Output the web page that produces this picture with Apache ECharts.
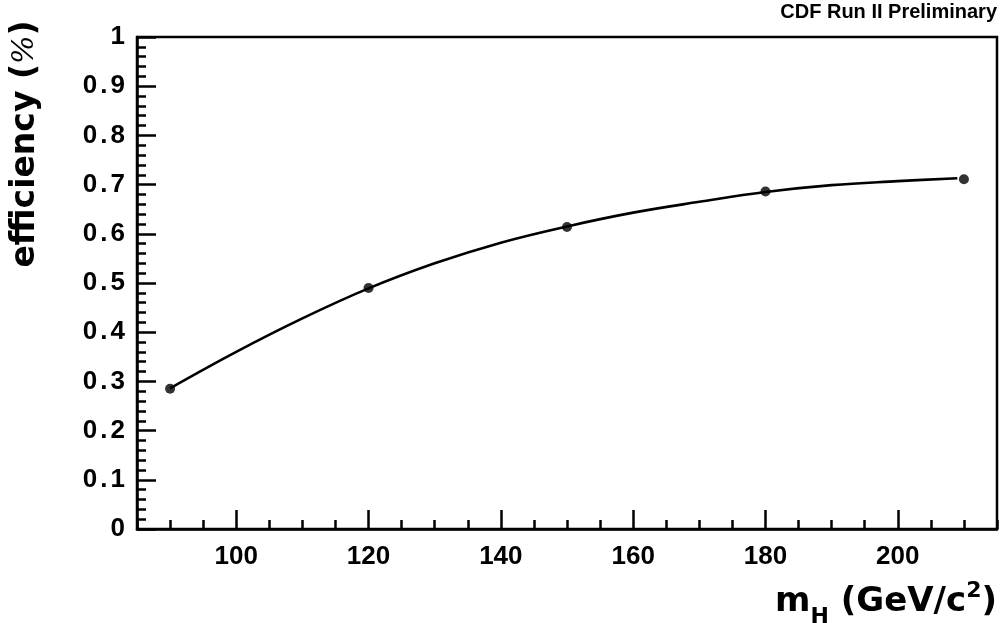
<!DOCTYPE html>
<html>
<head>
<meta charset="utf-8">
<title>efficiency vs m_H</title>
<script src="https://cdn.jsdelivr.net/npm/echarts@6/dist/echarts.min.js"></script>
<style>
  html, body { margin: 0; padding: 0; background: #ffffff; }
  #chart { width: 1003px; height: 623px; }
</style>
</head>
<body>
<div id="chart"></div>
<script>
// Measured efficiency at each Higgs mass hypothesis
const massPoints = [90, 120, 150, 180, 210];
const effPoints = [0.285, 0.490, 0.614, 0.686, 0.711];

// Fitted curve, sampled along its length
const curveMass = [90, 100, 110, 120, 130, 140, 150, 160, 170, 180, 190, 200, 209];
const curveEff = [0.286, 0.360, 0.428, 0.489, 0.540, 0.582, 0.615, 0.643, 0.665, 0.685, 0.699, 0.707, 0.713];

// Axis ticks
const xMajorTicks = [100, 120, 140, 160, 180, 200];
const xMinorTicks = [85, 90, 95, 105, 110, 115, 125, 130, 135, 145, 150, 155, 165, 170, 175, 185, 190, 195, 205, 210, 215];

const FONT = '"Liberation Sans", Arial, Helvetica, sans-serif';
const WIDE = '"DejaVu Sans", "Liberation Sans", sans-serif';

const chart = echarts.init(document.getElementById('chart'), null, { renderer: 'canvas' });

const pairs = (xs, ys) => xs.map((x, i) => [x, ys[i]]);

chart.setOption({
  animation: false,
  backgroundColor: '#ffffff',
  grid: {
    left: 137, top: 37, width: 860, height: 492,
    show: true, borderColor: '#000', borderWidth: 2.5, backgroundColor: 'transparent'
  },
  xAxis: [
    {
      type: 'value', min: 85, max: 215, position: 'bottom',
      axisLine: { show: true, onZero: false, lineStyle: { color: '#000', width: 2.5 } },
      axisTick: { show: true, inside: true, length: 19, customValues: xMajorTicks, lineStyle: { color: '#000', width: 2.5 } },
      axisLabel: {
        show: true, customValues: xMajorTicks, margin: 15,
        color: '#000', fontFamily: FONT, fontWeight: 'bold', fontSize: 26
      },
      splitLine: { show: false }
    },
    {
      type: 'value', min: 85, max: 215, position: 'bottom', offset: 0,
      axisLine: { show: false },
      axisTick: { show: true, inside: true, length: 9, customValues: xMinorTicks, lineStyle: { color: '#000', width: 2.5 } },
      axisLabel: { show: false },
      splitLine: { show: false }
    }
  ],
  yAxis: {
    type: 'value', min: 0, max: 1, interval: 0.1,
    axisLine: { show: true, onZero: false, lineStyle: { color: '#000', width: 2.5 } },
    axisTick: { show: true, inside: true, length: 19, lineStyle: { color: '#000', width: 2.5 } },
    minorTick: { show: true, splitNumber: 5, length: 9, lineStyle: { color: '#000', width: 2.5 } },
    axisLabel: {
      margin: 12, color: '#000', fontFamily: FONT, fontWeight: 'bold', fontSize: 26,
      formatter: v => {
        const s = String(Math.round(v * 10) / 10);
        return s.replace('.', '{dot|.}');
      },
      rich: {
        dot: { fontFamily: FONT, fontWeight: 'bold', fontSize: 26, color: '#000', padding: [0, 3, 0, 3] }
      }
    },
    splitLine: { show: false }
  },
  series: [
    {
      type: 'line', xAxisIndex: 0, data: pairs(curveMass, curveEff),
      smooth: 0.4, showSymbol: false, symbol: 'none',
      lineStyle: { color: '#000', width: 2.6 }, z: 2
    },
    {
      type: 'scatter', xAxisIndex: 0, data: pairs(massPoints, effPoints),
      symbol: 'circle', symbolSize: 10,
      itemStyle: { color: '#000' }, z: 3
    }
  ],
  graphic: [
    {
      type: 'text', right: 6, top: 2,
      style: { text: 'CDF Run II Preliminary', font: 'bold 20px ' + FONT, fill: '#000' }
    },
    {
      type: 'text', right: 6, top: 580,
      style: {
        text: '{m|m}{sub|H}{m| (GeV/c}{sup|2}{m|)}',
        rich: {
          m: { fontFamily: WIDE, fontWeight: 'bold', fontSize: 34, fill: '#000', lineHeight: 40, verticalAlign: 'middle' },
          sub: { fontFamily: WIDE, fontWeight: 'bold', fontSize: 22, fill: '#000', lineHeight: 40, verticalAlign: 'bottom', padding: [0, 0, -6, 0] },
          sup: { fontFamily: WIDE, fontWeight: 'bold', fontSize: 22, fill: '#000', lineHeight: 40, verticalAlign: 'top', padding: [-2, 0, 0, 0] }
        }
      }
    },
    {
      type: 'text', x: 25, y: 144, rotation: Math.PI / 2,
      style: {
        text: '{b|efficiency (}{p|%}{b|)}',
        align: 'center', verticalAlign: 'middle',
        rich: {
          b: { fontFamily: WIDE, fontWeight: 'bold', fontSize: 33, fill: '#000' },
          p: { fontFamily: '"DejaVu Serif", serif', fontStyle: 'italic', fontWeight: 'normal', fontSize: 30, fill: '#000' }
        }
      }
    }
  ]
});
</script>
</body>
</html>
